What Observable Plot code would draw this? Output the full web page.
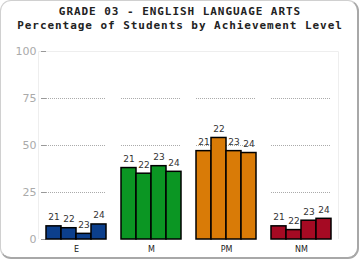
<!DOCTYPE html>
<html><head><meta charset="utf-8">
<script src="https://cdn.jsdelivr.net/npm/d3@7"></script>
<script src="https://cdn.jsdelivr.net/npm/@observablehq/plot@0.6"></script>
<style>
body{margin:0;background:#fff;}
#wrap{position:relative;width:360px;height:260px;overflow:hidden;}
#box{position:absolute;left:0;top:0;width:356px;height:256px;border:1px solid #d0d0d0;border-right:2px solid #a8a8a8;border-bottom:2px solid #a8a8a8;border-radius:11px;box-sizing:content-box;}
.t{position:absolute;left:0;width:360px;text-align:center;font-family:"DejaVu Sans Mono",monospace;font-weight:bold;font-size:11px;letter-spacing:0.95px;line-height:12px;height:12px;color:#222;white-space:nowrap;}
#t1{top:6px;}
#t2{top:19.5px;}
#chart{position:absolute;left:0;top:0;}
</style></head><body>
<div id="wrap"><div id="box"></div><div id="chart"></div>
<div class="t" id="t1">GRADE 03 - ENGLISH LANGUAGE ARTS</div>
<div class="t" id="t2">Percentage of Students by Achievement Level</div></div>
<script>
const levels = ["E","M","PM","NM"];
const years = ["21","22","23","24"];
const E  = [7, 6, 3, 8];
const M  = [38, 35, 39, 36];
const PM = [47, 54, 47, 46];
const NM = [7, 5, 10, 11];
const colors = ["#0c3f8c","#0b9623","#d97b07","#a50a23"];
const yTicks = [0, 25, 50, 75, 100];

const series = {E, M, PM, NM};
const data = [];
for (const l of levels) years.forEach((y, i) => data.push({level: l, year: y, value: series[l][i]}));

const plot = Plot.plot({
  width: 360, height: 260,
  marginTop: 51, marginBottom: 21, marginLeft: 38, marginRight: 21,
  style: {background: "transparent", fontFamily: "Verdana, 'DejaVu Sans', sans-serif"},
  fx: {domain: levels, paddingInner: 0.2, paddingOuter: 0.1, label: null},
  x: {domain: years, padding: 0, axis: null},
  y: {domain: [0, 100], label: null, axis: null},
  color: {domain: levels, range: colors},
  marks: [
    Plot.ruleY(yTicks.filter(d => d > 0 && d < 100), {stroke: "#aaa", strokeDasharray: "1,1", strokeWidth: 1, fx: null}),
    Plot.axisY({ticks: yTicks, tickSize: 5, tickPadding: 5, stroke: "#999", fill: "#aaa", fontSize: 11, label: null}),
    Plot.axisFx({anchor: "bottom", tickSize: 0, tickPadding: 7, fontSize: 8, fill: "#222", label: null}),
    Plot.barY(data, {fx: "level", x: "year", y: "value", fill: "level", stroke: "#000", strokeWidth: 1.5}),
    Plot.text(data, {fx: "level", x: "year", y: "value", text: "year", dy: -9, fontSize: 9, fill: "#333"})
  ]
});
document.getElementById("chart").appendChild(plot);
// plot area outline
d3.select(plot).insert("path", ":first-child").attr("d", "M38.5,239V51.5H338.5V239").attr("fill","none").attr("stroke","#eeeeee");
</script></body></html>
